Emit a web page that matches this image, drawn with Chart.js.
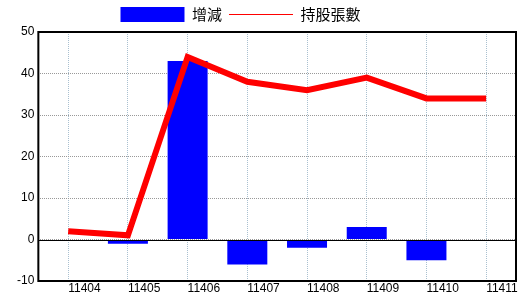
<!DOCTYPE html>
<html>
<head>
<meta charset="utf-8">
<script src="https://cdn.jsdelivr.net/npm/chart.js@4"></script>
<style>
  body { margin: 0; background: #fff; }
  #wrap { width: 520px; height: 300px; }
</style>
</head>
<body>
<div id="wrap"><canvas id="myChart"></canvas></div>
<script>
const months = ['11404', '11405', '11406', '11407', '11408', '11409', '11410', '11411'];
const change = [null, -1, 43, -6, -2, 3, -5, 0];
const holding = [2, 1, 44, 38, 36, 39, 34, 34];
const yTicks = [-10, 0, 10, 20, 30, 40, 50];

// frame round the plot area + solid zero line
const framePlugin = {
    id: 'frame',
    afterLayout(chart) {
        // nudge legend left like the original
        chart.legend.left -= 24;
        chart.legend.right -= 24;
    },
    afterDatasetsDraw(chart) {
        const { ctx, chartArea: a, scales } = chart;
        ctx.save();
        ctx.strokeStyle = '#000';
        ctx.lineWidth = 1;
        const y0 = Math.round(scales.y.getPixelForValue(0)) + 0.5;
        ctx.beginPath();
        ctx.moveTo(a.left, y0);
        ctx.lineTo(a.right, y0);
        ctx.stroke();
        ctx.lineWidth = 2;
        ctx.strokeRect(a.left, a.top, a.right - a.left, a.bottom - a.top);
        ctx.restore();
    }
};

const ctx = document.getElementById('myChart').getContext('2d');
const myChart = new Chart(ctx, {
    type: 'bar',
    data: {
        labels: months,
        datasets: [
            {
                label: '增減',
                data: change,
                backgroundColor: '#0000ff',
                borderWidth: 0,
                pointStyle: 'rect',
                categoryPercentage: 0.67,
                barPercentage: 1,
                order: 1
            },
            {
                type: 'line',
                label: '持股張數',
                data: holding,
                borderColor: '#ff0000',
                backgroundColor: '#ff0000',
                borderWidth: 6,
                pointRadius: 0,
                pointStyle: 'line',
                pointBorderColor: '#ff0000',
                pointBorderWidth: 1,
                tension: 0,
                fill: false,
                order: 0
            }
        ]
    },
    options: {
        responsive: true,
        maintainAspectRatio: false,
        animation: false,
        layout: { padding: { left: 13, right: 4, top: 0, bottom: 3 } },
        plugins: {
            legend: {
                position: 'top',
                labels: {
                    usePointStyle: true,
                    pointStyleWidth: 64,
                    boxHeight: 16,
                    padding: 7,
                    color: '#000',
                    font: { family: '"Noto Sans CJK TC", sans-serif', size: 15, lineHeight: 16 / 15 },
                    sort: (a, b) => a.datasetIndex - b.datasetIndex,
                    generateLabels: (chart) => {
                        const items = Chart.defaults.plugins.legend.labels.generateLabels(chart);
                        items.forEach(it => {
                            if (it.pointStyle === 'line') { it.strokeStyle = '#ff0000'; it.lineWidth = 1; }
                        });
                        return items;
                    }
                }
            },
            tooltip: { enabled: false }
        },
        scales: {
            x: {
                offset: true,
                grid: {
                    offset: false,
                    color: '#a9c0d0',
                    drawTicks: false
                },
                border: { display: false, dash: [1, 1] },
                ticks: {
                    color: '#000',
                    align: 'start',
                    padding: 2,
                    font: { family: '"Liberation Sans Narrow", "Liberation Sans", sans-serif', size: 12, lineHeight: 1 }
                }
            },
            y: {
                min: -10,
                max: 50,
                afterBuildTicks: (scale) => { scale.ticks = yTicks.map(v => ({ value: v })); },
                grid: {
                    color: '#999999',
                    drawTicks: false
                },
                border: { display: false, dash: [1, 1] },
                ticks: {
                    color: '#000',
                    padding: 4,
                    font: { family: '"Liberation Sans Narrow", "Liberation Sans", sans-serif', size: 12 }
                }
            }
        }
    },
    plugins: [framePlugin]
});
</script>
</body>
</html>
